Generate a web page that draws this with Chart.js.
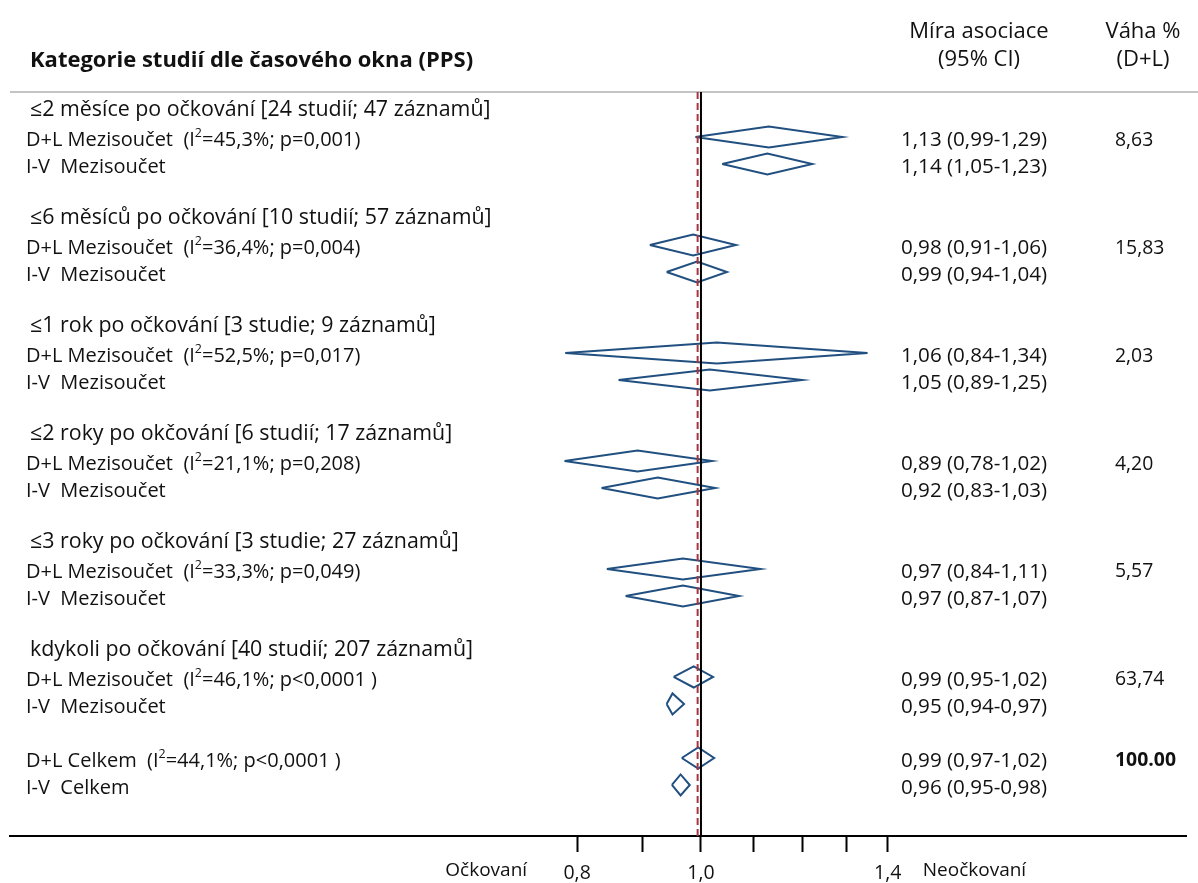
<!DOCTYPE html>
<html>
<head>
<meta charset="utf-8">
<script src="https://cdn.jsdelivr.net/npm/chart.js@4.4.1/dist/chart.umd.min.js"></script>
<style>
  html, body { margin: 0; padding: 0; background: #fff; }
  #wrap { width: 1198px; height: 883px; position: relative; }
</style>
</head>
<body>
<div id="wrap"><canvas id="chart"></canvas></div>
<script>
// --- data ------------------------------------------------------------------
const groupTitles = [
  '≤2 měsíce po očkování [24 studií; 47 záznamů]',
  '≤6 měsíců po očkování [10 studií; 57 záznamů]',
  '≤1 rok po očkování [3 studie; 9 záznamů]',
  '≤2 roky po okčování [6 studií; 17 záznamů]',
  '≤3 roky po očkování [3 studie; 27 záznamů]',
  'kdykoli po očkování [40 studií; 207 záznamů]',
];
const i2Text = ['45,3%', '36,4%', '52,5%', '21,1%', '33,3%', '46,1%', '44,1%'];
const pText = ['p=0,001', 'p=0,004', 'p=0,017', 'p=0,208', 'p=0,049', 'p<0,0001 ', 'p<0,0001 '];
const dlCiText = ['1,13 (0,99-1,29)', '0,98 (0,91-1,06)', '1,06 (0,84-1,34)', '0,89 (0,78-1,02)', '0,97 (0,84-1,11)', '0,99 (0,95-1,02)', '0,99 (0,97-1,02)'];
const ivCiText = ['1,14 (1,05-1,23)', '0,99 (0,94-1,04)', '1,05 (0,89-1,25)', '0,92 (0,83-1,03)', '0,97 (0,87-1,07)', '0,95 (0,94-0,97)', '0,96 (0,95-0,98)'];
const weights = ['8,63', '15,83', '2,03', '4,20', '5,57', '63,74', '100.00'];

// diamond extents as drawn (6 subgroups + overall)
const dlEst = [1.13, 0.986, 1.029, 0.892, 0.968, 0.987, 0.995];
const dlLo  = [0.99, 0.912, 0.783, 0.782, 0.844, 0.952, 0.966];
const dlHi  = [1.29, 1.065, 1.35, 1.02, 1.113, 1.022, 1.024];
const ivEst = [1.127, 0.993, 1.016, 0.925, 0.968, 0.95, 0.964];
const ivLo  = [1.039, 0.94, 0.862, 0.836, 0.873, 0.94, 0.949];
const ivHi  = [1.222, 1.048, 1.20, 1.026, 1.071, 0.97, 0.98];
const overallDL = 0.994;

const xTicks = [0.8, 0.9, 1.0, 1.1, 1.2, 1.3, 1.4];
const xTickLabels = ['0,8', '', '1,0', '', '', '', '1,4'];

// --- layout ---------------------------------------------------------------
const FONT = 'Open Sans';
const X_MIN = 0.288, X_MAX = 2.396;
const Y_MIN = -0.667, Y_MAX = 26.89;
const HALF = 0.39;
const BLUE = '#215080';

const dlRow = (i) => (i < 6 ? 4 * i + 1 : 24);
const ivRow = (i) => (i < 6 ? 4 * i + 2 : 25);

const diamond = (lo, est, hi, r) => [
  { x: lo, y: r }, { x: est, y: r - HALF }, { x: hi, y: r }, { x: est, y: r + HALF }, { x: lo, y: r },
];

const datasets = [
  { data: [{ x: 1, y: Y_MIN }, { x: 1, y: Y_MAX }], borderColor: '#000', borderWidth: 2 },
  { data: [{ x: overallDL, y: Y_MIN }, { x: overallDL, y: Y_MAX }], borderColor: '#a8343f', borderWidth: 2, borderDash: [7, 4] },
];
dlEst.forEach((_, i) => {
  datasets.push({ data: diamond(dlLo[i], dlEst[i], dlHi[i], dlRow(i)), borderColor: BLUE, borderWidth: 2 });
  datasets.push({ data: diamond(ivLo[i], ivEst[i], ivHi[i], ivRow(i)), borderColor: BLUE, borderWidth: 2 });
});
datasets.forEach((d) => Object.assign(d, { showLine: true, pointRadius: 0, fill: false, tension: 0, borderJoinStyle: 'miter' }));

function txt(ctx, s, x, y, size, opts = {}) {
  ctx.font = `${opts.bold ? 'bold ' : ''}${size}px "${FONT}"`;
  ctx.textAlign = opts.align || 'left';
  ctx.textBaseline = 'middle';
  ctx.fillStyle = '#111';
  ctx.fillText(s, x, y);
  return ctx.measureText(s).width;
}

// label with I² superscript
function statLabel(ctx, lead, i2, p, x, y, size) {
  let w = txt(ctx, lead + '  (I', x, y, size);
  w += txt(ctx, '2', x + w, y - 7, size * 0.62);
  txt(ctx, '=' + i2 + '; ' + p + ')', x + w, y, size);
}

const textPlugin = {
  id: 'forestText',
  beforeDatasetsDraw(chart) {
    const { ctx, chartArea } = chart;
    ctx.save();
    ctx.strokeStyle = '#c4c4c4';
    ctx.lineWidth = 2;
    ctx.beginPath();
    ctx.moveTo(10, chartArea.top);
    ctx.lineTo(chart.width, chartArea.top);
    ctx.stroke();
    ctx.restore();
  },
  afterDraw(chart) {
    const { ctx, chartArea } = chart;
    const ys = chart.scales.y, xs = chart.scales.x;
    const top = chartArea.top;
    ctx.save();
    txt(ctx, 'Kategorie studií dle časového okna (PPS)', 30, top - 31, 22, { bold: true });
    txt(ctx, 'Míra asociace', 979, top - 60, 22, { align: 'center' });
    txt(ctx, '(95% CI)', 979, top - 32, 22, { align: 'center' });
    txt(ctx, 'Váha %', 1143, top - 60, 22, { align: 'center' });
    txt(ctx, '(D+L)', 1143, top - 32, 22, { align: 'center' });

    groupTitles.forEach((t, i) => txt(ctx, t, 30, ys.getPixelForValue(4 * i), 21.4));
    dlEst.forEach((_, i) => {
      const yd = ys.getPixelForValue(dlRow(i)) + 3;
      const yi = ys.getPixelForValue(ivRow(i)) + 3;
      const total = i === 6;
      statLabel(ctx, total ? 'D+L Celkem' : 'D+L Mezisoučet', i2Text[i], pText[i], 26, yd, 20);
      txt(ctx, total ? 'I-V  Celkem' : 'I-V  Mezisoučet', 26, yi, 20);
      txt(ctx, dlCiText[i], 901, yd, 20.6);
      txt(ctx, ivCiText[i], 901, yi, 20.6);
      txt(ctx, weights[i], 1115, yd, 19.4, { bold: total });
    });

    const ly = chartArea.bottom + 35;
    txt(ctx, 'Očkovaní', xs.getPixelForValue(0.8) - 50, ly, 19, { align: 'right' });
    txt(ctx, 'Neočkovaní', xs.getPixelForValue(1.4) + 35, ly, 19);
    ctx.restore();
  },
};

new Chart(document.getElementById('chart'), {
  type: 'scatter',
  data: { datasets },
  options: {
    responsive: true,
    maintainAspectRatio: false,
    animation: false,
    layout: { padding: { left: 10, right: 12, top: 92, bottom: 0 } },
    plugins: { legend: { display: false }, tooltip: { enabled: false } },
    scales: {
      x: {
        type: 'logarithmic', min: X_MIN, max: X_MAX, position: 'bottom',
        afterBuildTicks: (s) => { s.ticks = xTicks.map((v) => ({ value: v })); },
        afterFit: (s) => { s.height = 47; },
        grid: { drawOnChartArea: false, drawTicks: true, tickLength: 16, tickWidth: 2, tickColor: '#000' },
        border: { display: true, color: '#000', width: 2 },
        ticks: {
          autoSkip: false, maxRotation: 0, color: '#111', padding: 10,
          font: { family: FONT, size: 19.5 },
          callback: (v) => xTickLabels[xTicks.findIndex((t) => Math.abs(t - v) < 1e-6)] ?? '',
        },
      },
      y: { type: 'linear', reverse: true, min: Y_MIN, max: Y_MAX, display: false },
    },
  },
  plugins: [textPlugin],
});
</script>
</body>
</html>
